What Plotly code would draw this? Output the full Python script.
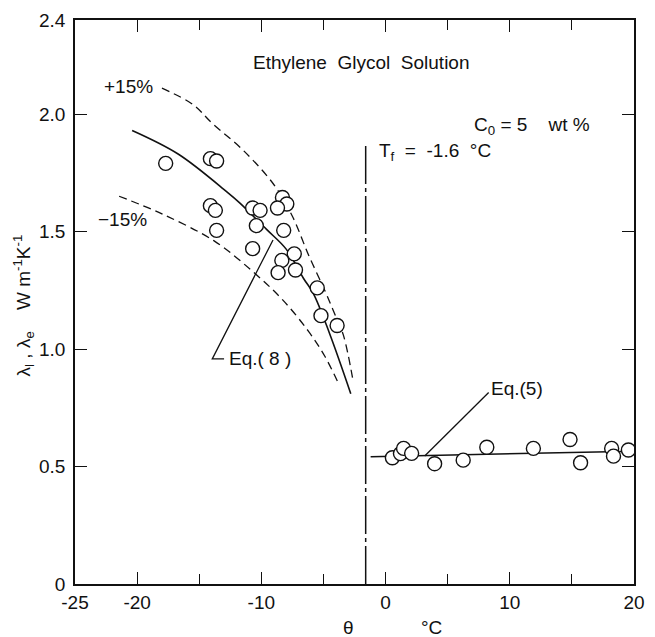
import plotly.graph_objects as go

# ---- data ----
meas_left_x = [-17.7, -14.1, -13.6, -14.1, -13.7, -13.6, -10.7, -10.1, -10.4, -8.3, -7.95, -8.7,
               -8.2, -10.7, -7.35, -8.35, -7.25, -8.65, -5.5, -5.2, -3.9]
meas_left_y = [1.79, 1.81, 1.80, 1.61, 1.59, 1.505, 1.60, 1.59, 1.525, 1.645, 1.617, 1.60,
               1.505, 1.427, 1.405, 1.377, 1.336, 1.325, 1.26, 1.142, 1.10]

meas_right_x = [0.55, 1.2, 1.45, 2.1, 3.95, 6.25, 8.15, 11.9, 14.85, 15.7, 18.2, 18.35, 19.55]
meas_right_y = [0.537, 0.555, 0.577, 0.556, 0.512, 0.527, 0.582, 0.577, 0.615, 0.516, 0.577, 0.544, 0.57]

eq8_x = [-20.4, -16.7, -12.8, -11.7, -9.6, -8.0, -6.6, -5.8, -4.5, -2.8]
eq8_y = [1.93, 1.83, 1.67, 1.62, 1.51, 1.425, 1.30, 1.235, 1.065, 0.81]

plus15_x = [-18.0, -15.5, -13.95, -11.45, -9.0, -7.5, -6.2, -4.9, -4.1, -3.4, -2.6]
plus15_y = [2.11, 2.04, 1.96, 1.845, 1.70, 1.565, 1.40, 1.25, 1.15, 1.06, 0.86]

minus15_x = [-21.45, -18.0, -13.8, -10.7, -8.3, -6.2, -4.9, -3.85]
minus15_y = [1.65, 1.575, 1.46, 1.33, 1.21, 1.075, 0.97, 0.86]

eq5_x = [-1.2, 20.0]
eq5_y = [0.542, 0.565]

tf_value = -1.6
tf_top = 1.87

x_tickvals = [-25, -20, -10, 0, 10, 20]
x_ticktext = ["-25", "-20", "-10", "0", "10", "20"]
x_minor = [-15, -5, 5, 15]
y_tickvals = [0, 0.5, 1.0, 1.5, 2.0, 2.4]
y_ticktext = ["0", "0.5", "1.0", "1.5", "2.0", "2.4"]

eq8_leader_x = [-13.0, -13.95, -9.06]
eq8_leader_y = [0.958, 0.958, 1.464]
eq5_leader_x = [3.15, 8.3]
eq5_leader_y = [0.545, 0.815]

FONT = "Liberation Sans, Arial, sans-serif"
BLACK = "#111111"

fig = go.Figure()

# curves
fig.add_trace(go.Scatter(x=plus15_x, y=plus15_y, mode="lines", line_shape="spline",
                         line=dict(color=BLACK, width=1.3, dash="8px,5px"), hoverinfo="skip"))
fig.add_trace(go.Scatter(x=minus15_x, y=minus15_y, mode="lines", line_shape="spline",
                         line=dict(color=BLACK, width=1.3, dash="8px,5px"), hoverinfo="skip"))
fig.add_trace(go.Scatter(x=eq8_x, y=eq8_y, mode="lines", line_shape="spline",
                         line=dict(color=BLACK, width=1.6), hoverinfo="skip"))
fig.add_trace(go.Scatter(x=eq5_x, y=eq5_y, mode="lines",
                         line=dict(color=BLACK, width=1.5), hoverinfo="skip"))
# freezing temperature line
fig.add_trace(go.Scatter(x=[tf_value, tf_value], y=[0, tf_top], mode="lines",
                         line=dict(color=BLACK, width=1.5, dash="38px,4px,4px,4px"), hoverinfo="skip"))
# leader lines
fig.add_trace(go.Scatter(x=eq8_leader_x, y=eq8_leader_y, mode="lines",
                         line=dict(color=BLACK, width=1.3), hoverinfo="skip"))
fig.add_trace(go.Scatter(x=eq5_leader_x, y=eq5_leader_y, mode="lines",
                         line=dict(color=BLACK, width=1.3), hoverinfo="skip"))
# measurements
marker = dict(symbol="circle", size=14, color="white", line=dict(color=BLACK, width=1.4))
fig.add_trace(go.Scatter(x=meas_left_x, y=meas_left_y, mode="markers", marker=marker))
fig.add_trace(go.Scatter(x=meas_right_x, y=meas_right_y, mode="markers", marker=marker))

txt = dict(family=FONT, size=19, color=BLACK)
ann = [
    dict(x=-1.9, y=2.22, text="Ethylene  Glycol  Solution", xanchor="center"),
    dict(x=11.8, y=1.95, text="C<sub>0</sub> = 5    wt %", xanchor="center"),
    dict(x=-0.65, y=1.84, text="T<sub>f</sub>  =  -1.6  °C", xanchor="left"),
    dict(x=-22.85, y=2.115, text="+15%", xanchor="left"),
    dict(x=-23.3, y=1.55, text="−15%", xanchor="left"),
    dict(x=-12.8, y=0.958, text="Eq.( 8 )", xanchor="left"),
    dict(x=8.35, y=0.83, text="Eq.(5)", xanchor="left"),
]
annotations = []
for a in ann:
    annotations.append(dict(xref="x", yref="y", showarrow=False, font=txt,
                            yanchor="middle", **a))
annotations.append(dict(xref="paper", yref="paper", x=-0.093, y=0.494, showarrow=False,
                        textangle=-90, font=txt, xanchor="center", yanchor="middle",
                        text="λ<sub>l</sub> , λ<sub>e</sub>    W m<sup>-1</sup>K<sup>-1</sup>"))
annotations.append(dict(xref="x", yref="paper", x=-3.0, y=-0.077, showarrow=False,
                        font=txt, xanchor="center", yanchor="middle", text="θ"))
annotations.append(dict(xref="x", yref="paper", x=3.7, y=-0.077, showarrow=False,
                        font=txt, xanchor="center", yanchor="middle", text="°C"))

fig.update_layout(
    width=655, height=637,
    margin=dict(l=75, r=10, t=15, b=53),
    paper_bgcolor="white", plot_bgcolor="white",
    showlegend=False,
    font=dict(family=FONT, size=19, color=BLACK),
    annotations=annotations,
    xaxis=dict(range=[-25, 20], tickvals=x_tickvals, ticktext=x_ticktext,
               ticks="inside", ticklen=12, tickwidth=1.3, tickcolor=BLACK,
               minor=dict(tickvals=x_minor, ticks="inside", ticklen=10, tickwidth=1.3, tickcolor=BLACK),
               showline=True, linecolor=BLACK, linewidth=1.6, mirror="ticks",
               showgrid=False, zeroline=False, tickfont=txt),
    yaxis=dict(range=[0, 2.4], tickvals=y_tickvals, ticktext=y_ticktext,
               ticks="inside", ticklen=12, tickwidth=1.3, tickcolor=BLACK,
               ticklabelstandoff=4,
               showline=True, linecolor=BLACK, linewidth=1.6, mirror="ticks",
               showgrid=False, zeroline=False, tickfont=txt),
)

fig.write_html("out.html")
